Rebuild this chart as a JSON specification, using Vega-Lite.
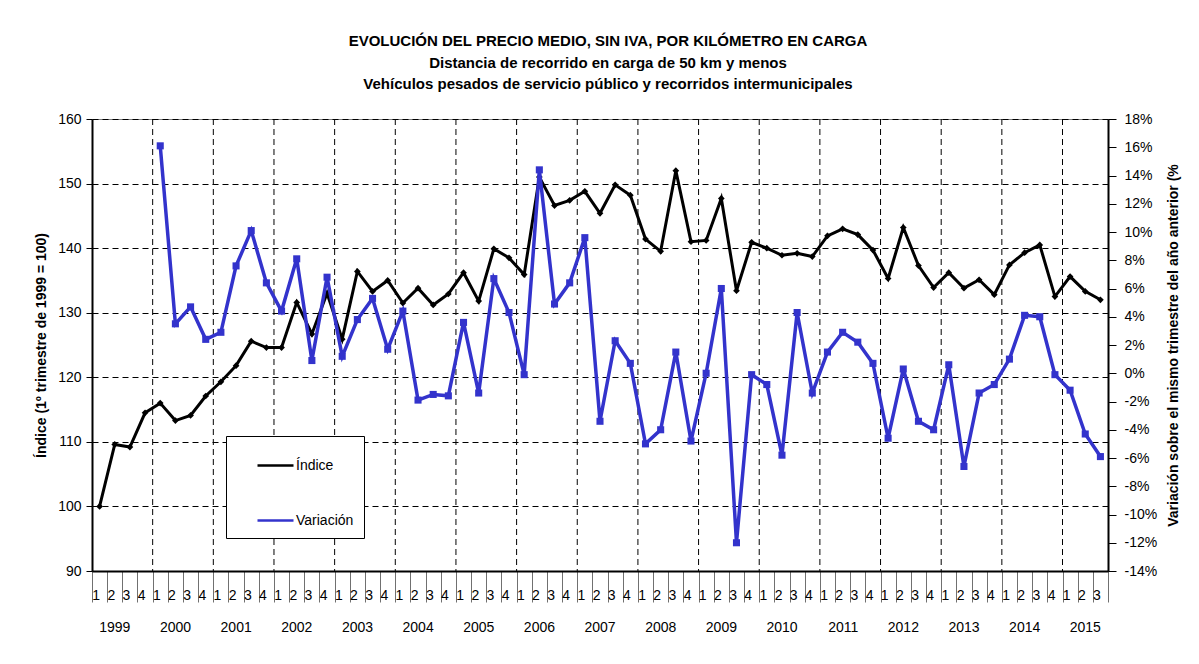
{
  "$schema": "https://vega.github.io/schema/vega-lite/v6.json",
  "padding": {"left": 34, "top": 34, "right": 5, "bottom": 5},
  "width": 1016,
  "height": 452,
  "title": {
    "text": ["EVOLUCIÓN DEL PRECIO MEDIO, SIN IVA, POR KILÓMETRO EN CARGA", "Distancia de recorrido en carga de 50 km y menos", "Vehículos pesados de servicio público y recorridos intermunicipales"],
    "font": "Liberation Sans", "fontSize": 15, "fontWeight": "bold", "color": "black", "anchor": "middle", "lineHeight": 21.5, "offset": 20, "dx": 8
  },
  "config": {
    "font": "Liberation Sans",
    "view": {"stroke": "#808080"},
    "axis": {"labelFont": "Liberation Sans", "titleFont": "Liberation Sans", "labelColor": "black", "titleColor": "black", "domainColor": "black", "tickColor": "black", "labelFontSize": 14, "titleFontSize": 14, "titleFontWeight": "bold"},
    "legend": {"labelFont": "Liberation Sans", "labelColor": "black"}
  },
  "data": {"values": [
      {"t": "1999-1", "indice": 100.0, "variacion": null},
      {"t": "1999-2", "indice": 109.6, "variacion": null},
      {"t": "1999-3", "indice": 109.2, "variacion": null},
      {"t": "1999-4", "indice": 114.5, "variacion": null},
      {"t": "2000-1", "indice": 116.0, "variacion": 16.1},
      {"t": "2000-2", "indice": 113.3, "variacion": 3.5},
      {"t": "2000-3", "indice": 114.1, "variacion": 4.7},
      {"t": "2000-4", "indice": 117.1, "variacion": 2.4},
      {"t": "2001-1", "indice": 119.3, "variacion": 2.9},
      {"t": "2001-2", "indice": 121.8, "variacion": 7.6},
      {"t": "2001-3", "indice": 125.6, "variacion": 10.1},
      {"t": "2001-4", "indice": 124.6, "variacion": 6.4},
      {"t": "2002-1", "indice": 124.6, "variacion": 4.4},
      {"t": "2002-2", "indice": 131.6, "variacion": 8.1},
      {"t": "2002-3", "indice": 126.7, "variacion": 0.9},
      {"t": "2002-4", "indice": 133.0, "variacion": 6.8},
      {"t": "2003-1", "indice": 125.9, "variacion": 1.2},
      {"t": "2003-2", "indice": 136.4, "variacion": 3.8},
      {"t": "2003-3", "indice": 133.3, "variacion": 5.3},
      {"t": "2003-4", "indice": 135.0, "variacion": 1.7},
      {"t": "2004-1", "indice": 131.5, "variacion": 4.4},
      {"t": "2004-2", "indice": 133.8, "variacion": -1.9},
      {"t": "2004-3", "indice": 131.2, "variacion": -1.5},
      {"t": "2004-4", "indice": 132.9, "variacion": -1.6},
      {"t": "2005-1", "indice": 136.2, "variacion": 3.6},
      {"t": "2005-2", "indice": 131.8, "variacion": -1.4},
      {"t": "2005-3", "indice": 139.9, "variacion": 6.7},
      {"t": "2005-4", "indice": 138.5, "variacion": 4.3},
      {"t": "2006-1", "indice": 135.9, "variacion": -0.1},
      {"t": "2006-2", "indice": 151.0, "variacion": 14.4},
      {"t": "2006-3", "indice": 146.6, "variacion": 4.9},
      {"t": "2006-4", "indice": 147.4, "variacion": 6.4},
      {"t": "2007-1", "indice": 148.8, "variacion": 9.6},
      {"t": "2007-2", "indice": 145.4, "variacion": -3.4},
      {"t": "2007-3", "indice": 149.8, "variacion": 2.3},
      {"t": "2007-4", "indice": 148.2, "variacion": 0.7},
      {"t": "2008-1", "indice": 141.4, "variacion": -5.0},
      {"t": "2008-2", "indice": 139.5, "variacion": -4.0},
      {"t": "2008-3", "indice": 152.0, "variacion": 1.5},
      {"t": "2008-4", "indice": 141.0, "variacion": -4.8},
      {"t": "2009-1", "indice": 141.2, "variacion": 0.0},
      {"t": "2009-2", "indice": 147.7, "variacion": 6.0},
      {"t": "2009-3", "indice": 133.4, "variacion": -12.0},
      {"t": "2009-4", "indice": 140.9, "variacion": -0.1},
      {"t": "2010-1", "indice": 140.0, "variacion": -0.8},
      {"t": "2010-2", "indice": 138.9, "variacion": -5.8},
      {"t": "2010-3", "indice": 139.2, "variacion": 4.3},
      {"t": "2010-4", "indice": 138.7, "variacion": -1.4},
      {"t": "2011-1", "indice": 141.9, "variacion": 1.5},
      {"t": "2011-2", "indice": 143.0, "variacion": 2.9},
      {"t": "2011-3", "indice": 142.1, "variacion": 2.2},
      {"t": "2011-4", "indice": 139.7, "variacion": 0.7},
      {"t": "2012-1", "indice": 135.3, "variacion": -4.6},
      {"t": "2012-2", "indice": 143.2, "variacion": 0.3},
      {"t": "2012-3", "indice": 137.3, "variacion": -3.4},
      {"t": "2012-4", "indice": 133.9, "variacion": -4.0},
      {"t": "2013-1", "indice": 136.2, "variacion": 0.6},
      {"t": "2013-2", "indice": 133.8, "variacion": -6.6},
      {"t": "2013-3", "indice": 135.1, "variacion": -1.4},
      {"t": "2013-4", "indice": 132.8, "variacion": -0.8},
      {"t": "2014-1", "indice": 137.4, "variacion": 1.0},
      {"t": "2014-2", "indice": 139.3, "variacion": 4.1},
      {"t": "2014-3", "indice": 140.5, "variacion": 4.0},
      {"t": "2014-4", "indice": 132.5, "variacion": -0.1},
      {"t": "2015-1", "indice": 135.6, "variacion": -1.2},
      {"t": "2015-2", "indice": 133.3, "variacion": -4.3},
      {"t": "2015-3", "indice": 132.0, "variacion": -5.9}
  ]},
  "resolve": {"scale": {"y": "independent"}},
  "layer": [
    {
      "transform": [{"filter": "slice(datum.t, 5) == '1' && datum.t != '1999-1'"}],
      "mark": {"type": "rule", "color": "black", "strokeWidth": 1, "strokeDash": [6, 4]},
      "encoding": {
        "x": {"field": "t", "type": "ordinal", "bandPosition": 0}
      }
    },
    {
      "mark": {"type": "line", "strokeWidth": 3, "point": {"filled": true, "shape": "diamond", "size": 45}},
      "encoding": {
        "x": {"field": "t", "type": "ordinal", "sort": null,
          "scale": {"type": "band", "paddingInner": 0, "paddingOuter": 0},
          "axis": {"orient": "bottom", "title": null, "tickBand": "extent", "tickSize": 31, "tickColor": "#707070", "labelPadding": -7, "labelAngle": 0, "labelLineHeight": 32, "labelExpr": "isString(datum.value) ? (slice(datum.value, 5) == '3' ? [slice(datum.value, 5), slice(datum.value, 0, 4)] : slice(datum.value, 5)) : ''", "domainWidth": 2, "grid": false}},
        "y": {"field": "indice", "type": "quantitative",
          "scale": {"domain": [90, 160], "nice": false, "zero": false},
          "axis": {"orient": "left", "values": [90, 100, 110, 120, 130, 140, 150, 160], "title": "Índice (1º trimestre de 1999 = 100)", "titlePadding": 9, "tickSize": 6, "labelPadding": 5, "domainWidth": 2, "grid": true, "gridColor": "black", "gridDash": [6, 4], "gridWidth": 1}},
        "color": {"datum": "Índice",
          "scale": {"domain": ["Índice", "Variación"], "range": ["#000000", "#3333cc"]},
          "legend": {"orient": "none", "legendX": 134, "legendY": 317, "title": null, "direction": "vertical", "padding": 10, "strokeColor": "black", "fillColor": "white", "symbolType": "M-1,0H1", "symbolSize": 1296, "symbolOffset": 20, "labelOffset": 1, "rowPadding": 28, "labelFontSize": 14, "symbolStrokeWidth": 2.5,
            "labelExpr": "datum.label + '\u00a0\u00a0\u00a0\u00a0\u00a0'"}}
      }
    },
    {
      "mark": {"type": "line", "strokeWidth": 3.5, "point": {"filled": true, "shape": "square", "size": 50}},
      "encoding": {
        "x": {"field": "t", "type": "ordinal", "sort": null},
        "y": {"field": "variacion", "type": "quantitative",
          "scale": {"domain": [-14, 18], "nice": false, "zero": false},
          "axis": {"orient": "right", "values": [-14, -12, -10, -8, -6, -4, -2, 0, 2, 4, 6, 8, 10, 12, 14, 16, 18], "labelExpr": "datum.value + '%'", "title": "Variación sobre el mismo trimestre del año anterior (%", "titleAngle": 270, "titleBaseline": "top", "titlePadding": 10, "tickSize": 8, "labelPadding": 8, "domainWidth": 2, "grid": false}},
        "color": {"datum": "Variación"}
      }
    }
  ]
}
